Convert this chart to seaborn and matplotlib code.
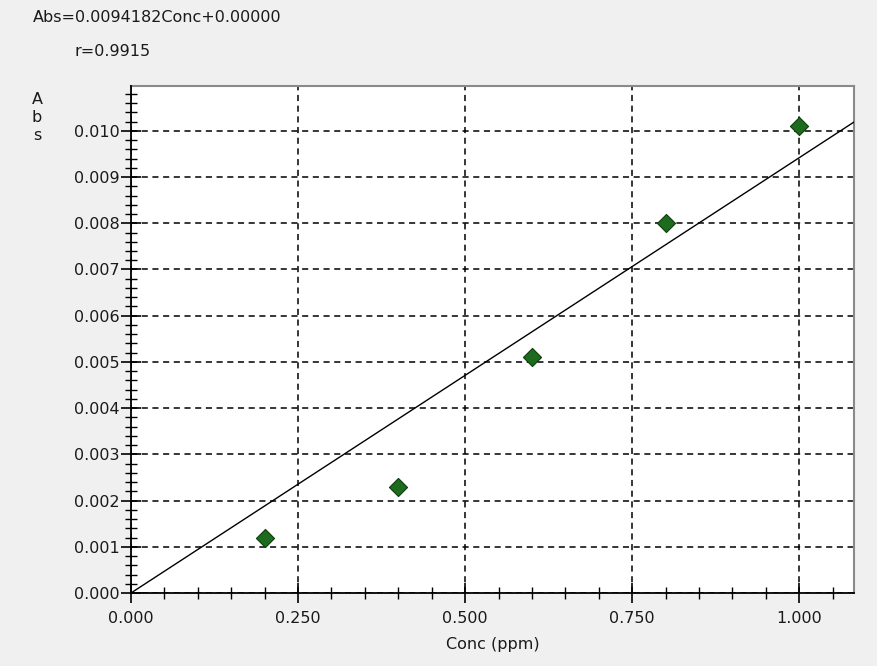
import matplotlib
matplotlib.use("Agg")
import matplotlib.pyplot as plt
import seaborn as sns
import numpy as np
import pandas as pd
from matplotlib.ticker import MultipleLocator, FormatStrFormatter

# Data
conc = [0.2, 0.4, 0.6, 0.8, 1.0]
absorbance = [0.0012, 0.0023, 0.0051, 0.0080, 0.0101]
slope = 0.0094182
intercept = 0.0
x_max = 1.082
y_max = 0.01097
equation_text = "Abs=0.0094182Conc+0.00000"
r_text = "r=0.9915"
x_label = "Conc (ppm)"
y_label_chars = ["A", "b", "s"]

sns.set_theme(style="white")
plt.rcParams['font.family'] = ['DejaVu Sans']

FS = 11.5
TXT = "#1a1a1a"

fig = plt.figure(figsize=(8.78, 6.66), dpi=100, facecolor="#f0f0f0")
ax = fig.add_axes([131/878, 1 - 593/666, (854 - 131)/878, (593 - 86)/666])
ax.set_facecolor("white")

df = pd.DataFrame({"Conc": conc, "Abs": absorbance})

# regression line
line_x = np.array([0.0, x_max])
line_df = pd.DataFrame({"Conc": line_x, "Abs": slope * line_x + intercept})
sns.lineplot(data=line_df, x="Conc", y="Abs", ax=ax, color="black", linewidth=1.0, zorder=3)

sns.scatterplot(data=df, x="Conc", y="Abs", ax=ax, marker="D", s=85,
                color="#1e6b1e", edgecolor="#0d3d0d", linewidth=0.8, zorder=4)

ax.set_xlim(0, x_max)
ax.set_ylim(0, y_max)

ax.xaxis.set_major_locator(MultipleLocator(0.25))
ax.xaxis.set_minor_locator(MultipleLocator(0.05))
ax.yaxis.set_major_locator(MultipleLocator(0.001))
ax.yaxis.set_minor_locator(MultipleLocator(0.0002))
ax.xaxis.set_major_formatter(FormatStrFormatter("%.3f"))
ax.yaxis.set_major_formatter(FormatStrFormatter("%.3f"))

ax.tick_params(axis="both", which="both", bottom=True, left=True, top=False, right=False)
ax.tick_params(axis="both", which="major", direction="inout", length=14, width=1.2,
               color="black", labelsize=FS, labelcolor=TXT, pad=1)
ax.tick_params(axis="both", which="minor", direction="inout", length=9, width=1.0, color="black")
ax.tick_params(axis="x", which="major", pad=6)

ax.grid(True, which="major", color="black", linestyle=(0, (4, 3)), linewidth=1.1)
ax.set_axisbelow(True)

for s in ["left", "bottom"]:
    ax.spines[s].set_color("black")
    ax.spines[s].set_linewidth(1.3)
for s in ["right", "top"]:
    ax.spines[s].set_color("#8a8a8a")
    ax.spines[s].set_linewidth(1.5)
ax.spines["left"].set_zorder(5)
ax.spines["bottom"].set_zorder(5)

ax.set_xlabel(x_label, fontsize=FS, color=TXT, labelpad=8)
ax.set_ylabel("")

fig.text(33/878, 1 - 17/666, equation_text, fontsize=FS, color=TXT, ha="left", va="center")
fig.text(75/878, 1 - 52/666, r_text, fontsize=FS, color=TXT, ha="left", va="center")
for i, ch in enumerate(y_label_chars):
    fig.text(37/878, 1 - (100 + i * 18)/666, ch, fontsize=FS, color=TXT, ha="center", va="center")

fig.savefig("out.png", dpi=100, facecolor=fig.get_facecolor())
